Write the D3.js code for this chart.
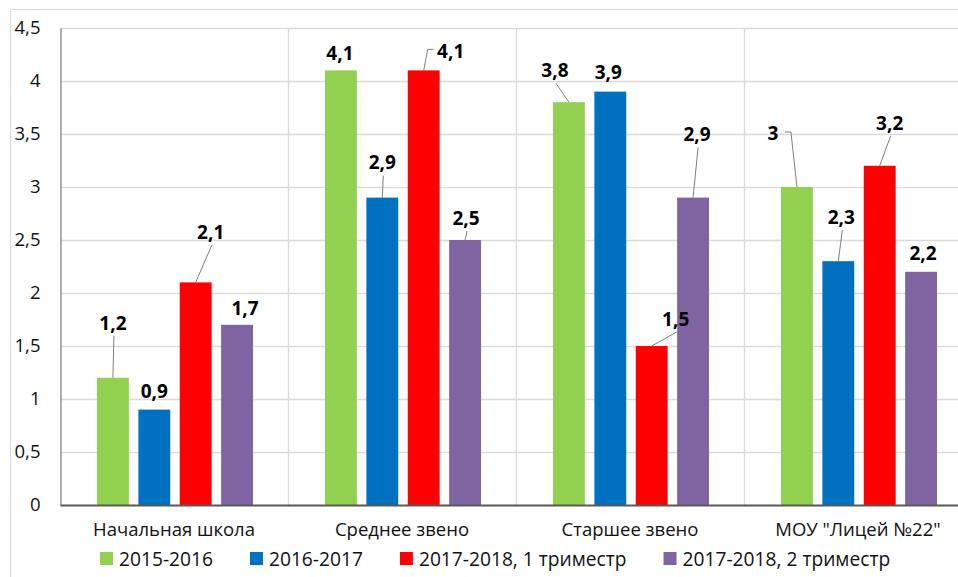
<!DOCTYPE html>
<html>
<head>
<meta charset="utf-8">
<script src="https://cdn.jsdelivr.net/npm/d3@7"></script>
<style>
  body { margin: 0; background: #fff; }
  svg { display: block; font-family: "Open Sans", "Noto Sans", sans-serif; }
</style>
</head>
<body>
<svg id="chart"></svg>
<script>
var categories = ["Начальная школа", "Среднее звено", "Старшее звено", "МОУ \"Лицей №22\""];
var seriesNames = ["2015-2016", "2016-2017", "2017-2018, 1 триместр", "2017-2018, 2 триместр"];
var values2015 = [1.2, 4.1, 3.8, 3.0];
var values2016 = [0.9, 2.9, 3.9, 2.3];
var values2017t1 = [2.1, 4.1, 1.5, 3.2];
var values2017t2 = [1.7, 2.5, 2.9, 2.2];
var yTicks = [0, 0.5, 1, 1.5, 2, 2.5, 3, 3.5, 4, 4.5];

var colors = ["#92d050", "#0070c0", "#ff0000", "#8064a2"];

// label placement relative to top of bar: [dx, dy, leader]
var labelOffsets = [
  [[0, -55, "down"], [0, -18, null], [15, -50, "down"], [8, -17, null]],
  [[-1, -17, null], [0, -35, "down"], [27, -19, "left"], [1, -22, "down"]],
  [[-14, -32, "down"], [-2, -19, null], [24, -27, "down"], [4, -63, "down"]],
  [[-24, -54, "right"], [3, -44, "down"], [10, -43, "down"], [2, -19, null]]
];

var width = 958, height = 577;
var margin = {left: 60, top: 28, plotRight: 972, bottom: 505};

var allSeries = [values2015, values2016, values2017t1, values2017t2];

var svg = d3.select("#chart")
  .attr("width", width)
  .attr("height", height);

// chart border
svg.append("rect")
  .attr("x", 10.5).attr("y", 9.5)
  .attr("width", 1000).attr("height", 600)
  .attr("fill", "none")
  .attr("stroke", "#d9d9d9");

var x0 = d3.scaleBand()
  .domain(categories)
  .range([margin.left, margin.plotRight])
  .paddingInner(0).paddingOuter(0);

var x1 = d3.scaleBand()
  .domain(d3.range(seriesNames.length))
  .range([37, 193])
  .paddingInner(0.23).paddingOuter(0);

var y = d3.scaleLinear()
  .domain([0, 4.5])
  .range([margin.bottom, margin.top]);

// horizontal grid
svg.append("g")
  .selectAll("line")
  .data(yTicks.slice(1))
  .enter().append("line")
    .attr("x1", margin.left).attr("x2", width)
    .attr("y1", function(d) { return Math.round(y(d)) + 0.5; })
    .attr("y2", function(d) { return Math.round(y(d)) + 0.5; })
    .attr("stroke", "#d9d9d9")
    .attr("stroke-width", 1.3);

// vertical category separators
svg.append("g")
  .selectAll("line")
  .data(categories.slice(1))
  .enter().append("line")
    .attr("x1", function(d) { return Math.round(x0(d)) + 0.5; })
    .attr("x2", function(d) { return Math.round(x0(d)) + 0.5; })
    .attr("y1", margin.top).attr("y2", margin.bottom)
    .attr("stroke", "#d9d9d9")
    .attr("stroke-width", 1.3);

// y axis
var yAxis = d3.axisLeft(y)
  .tickValues(yTicks)
  .tickSize(0)
  .tickPadding(20)
  .tickFormat(function(d) { return String(d).replace(".", ","); });

var yg = svg.append("g")
  .attr("transform", "translate(" + (margin.left + 0.5) + ",0)")
  .call(yAxis);
yg.select(".domain").attr("stroke", "#868686").attr("stroke-width", 1.3);
yg.selectAll("text")
  .attr("font-size", 18.5)
  .attr("font-family", "\"Open Sans\", sans-serif")
  .attr("fill", "#111");

// bars
var groups = svg.append("g")
  .selectAll("g")
  .data(categories)
  .enter().append("g")
    .attr("transform", function(d) { return "translate(" + x0(d) + ",0)"; });

groups.selectAll("rect")
  .data(function(d, i) { return allSeries.map(function(s, j) { return {s: j, c: i, v: s[i]}; }); })
  .enter().append("rect")
    .attr("x", function(d) { return x1(d.s); })
    .attr("width", x1.bandwidth())
    .attr("y", function(d) { return y(d.v); })
    .attr("height", function(d) { return y(0) - y(d.v); })
    .attr("fill", function(d) { return colors[d.s]; });

// x axis
var xAxis = d3.axisBottom(x0).tickSize(0).tickPadding(18);
var xg = svg.append("g")
  .attr("transform", "translate(0," + margin.bottom + ")")
  .call(xAxis);
xg.select(".domain").attr("stroke", "#595959").attr("stroke-width", 2);
xg.selectAll("text")
  .attr("font-size", 18.5)
  .attr("font-family", "\"Open Sans\", sans-serif")
  .attr("fill", "#111");

// data labels with leader lines
var labels = [];
categories.forEach(function(c, i) {
  allSeries.forEach(function(s, j) {
    var off = labelOffsets[i][j];
    var bx = x0(c) + x1(j) + x1.bandwidth() / 2;
    var by = y(s[i]);
    labels.push({v: s[i], bx: bx, by: by, lx: bx + off[0], ly: by + off[1], leader: off[2]});
  });
});

var lg = svg.append("g");
labels.forEach(function(d) {
  var pts = null;
  if (d.leader == "down") {
    pts = [[d.lx + 1, d.ly + 13], [d.bx, d.by]];
  } else if (d.leader == "left") {
    pts = [[d.lx - 17, d.ly - 2], [d.lx - 23, d.ly - 2], [d.bx, d.by]];
  } else if (d.leader == "right") {
    pts = [[d.lx + 12, d.ly - 1], [d.lx + 18, d.ly - 1], [d.bx, d.by]];
  }
  if (pts) {
    lg.append("path")
      .attr("d", d3.line()(pts))
      .attr("fill", "none")
      .attr("stroke", "#7f7f7f")
      .attr("stroke-width", 1);
  }
  lg.append("text")
    .attr("x", d.lx)
    .attr("y", d.ly)
    .attr("dy", "0.36em")
    .attr("text-anchor", "middle")
    .attr("font-size", 19)
    .attr("font-weight", "bold")
    .attr("fill", "#000")
    .text(String(d.v).replace(".", ","));
});

// legend
var legend = svg.append("g");
var items = legend.selectAll("g")
  .data(seriesNames)
  .enter().append("g");
items.append("rect")
  .attr("width", 13).attr("height", 13)
  .attr("y", 552)
  .attr("fill", function(d, i) { return colors[i]; });
items.append("text")
  .attr("x", 19)
  .attr("y", 566)
  .attr("font-size", 19.2)
  .attr("fill", "#111")
  .text(function(d) { return d; });

var cursor = 100, widths = [];
items.each(function() {
  widths.push(d3.select(this).select("text").node().getComputedTextLength() + 19);
});
items.attr("transform", function(d, i) {
  var t = "translate(" + cursor + ",0)";
  cursor += widths[i] + 37;
  return t;
});
</script>
</body>
</html>
